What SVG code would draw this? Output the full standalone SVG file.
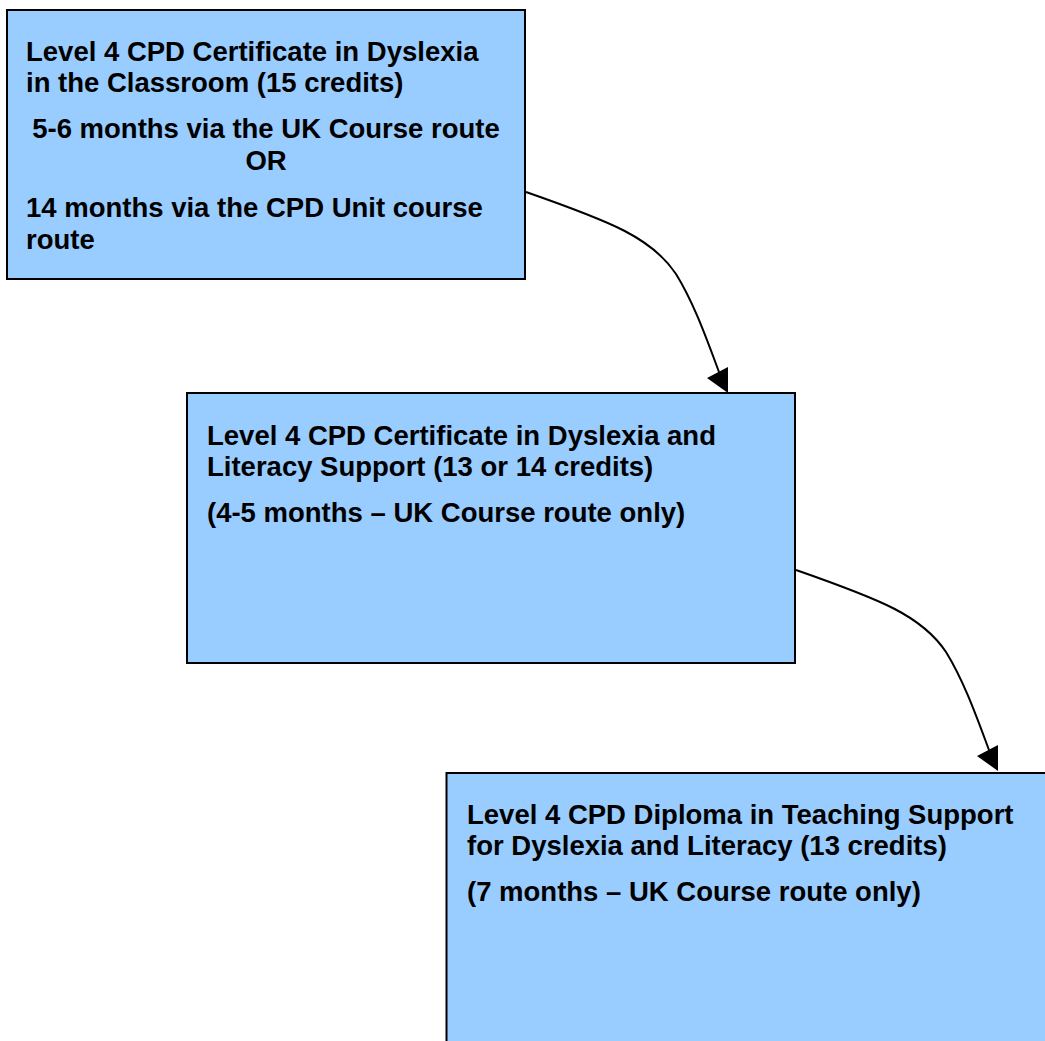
<svg xmlns="http://www.w3.org/2000/svg" width="1045" height="1041" viewBox="0 0 1045 1041">
<style>
.box{fill:#99CCFF;stroke:#000;stroke-width:2}
.t{font-family:"Liberation Sans",Arial,sans-serif;font-weight:bold;font-size:27.5px;fill:#000}
.c{text-anchor:middle}
.conn{fill:none;stroke:#000;stroke-width:2}
.head{fill:#000;stroke:none}
</style>
<rect width="1045" height="1041" fill="#fff"/>
<g id="node1">
<rect class="box" x="7" y="10" width="518" height="269"/>
<text class="t" x="26" y="60.5">Level 4 CPD Certificate in Dyslexia</text>
<text class="t" x="26" y="92">in the Classroom (15 credits)</text>
<text class="t c" x="266" y="138">5-6 months via the UK Course route</text>
<text class="t c" x="266" y="170">OR</text>
<text class="t" x="26" y="217">14 months via the CPD Unit course</text>
<text class="t" x="26" y="249">route</text>
</g>
<g id="node2">
<rect class="box" x="187" y="393" width="608" height="270"/>
<text class="t" x="207" y="444.5">Level 4 CPD Certificate in Dyslexia and</text>
<text class="t" x="207" y="475.5">Literacy Support (13 or 14 credits)</text>
<text class="t" x="207" y="522">(4-5 months – UK Course route only)</text>
</g>
<g id="node3">
<rect class="box" x="446.5" y="773" width="620" height="300"/>
<text class="t" x="467" y="824">Level 4 CPD Diploma in Teaching Support</text>
<text class="t" x="467" y="855">for Dyslexia and Literacy (13 credits)</text>
<text class="t" x="467" y="901">(7 months – UK Course route only)</text>
</g>
<g id="connectors">
<path class="conn" d="M526,192 C612,222 652,238 676,274 C694,303 707,340 719,372"/>
<polygon class="head" points="728,393 707,378 728,367"/>
<path class="conn" d="M796,570 C882,600 922,616 946,652 C964,681 977,718 989,750"/>
<polygon class="head" points="998,771 977,756 998,745"/>
</g>
</svg>
